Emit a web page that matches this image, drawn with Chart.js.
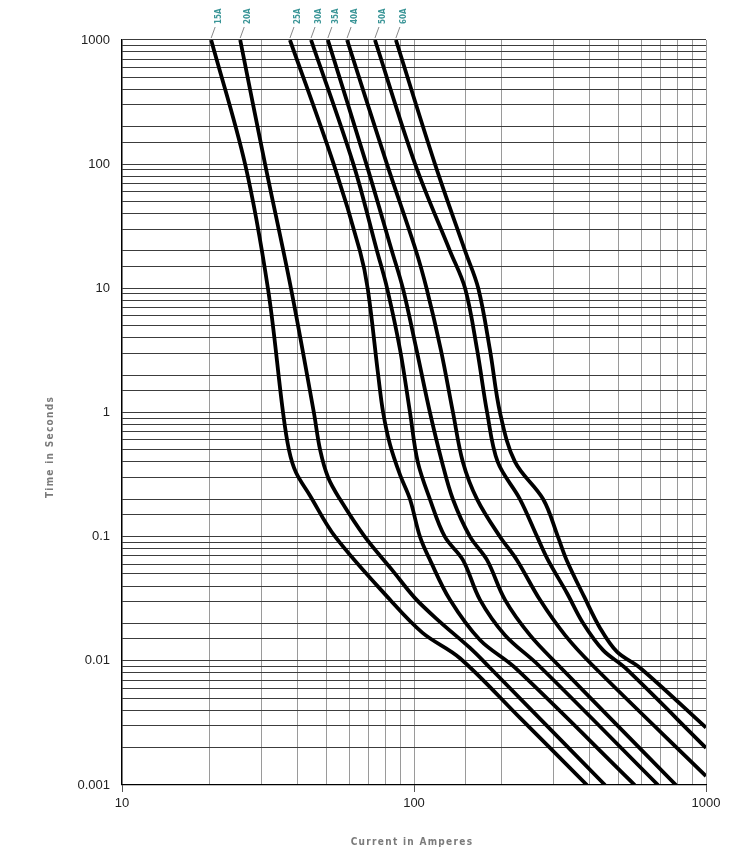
<!DOCTYPE html>
<html>
<head>
<meta charset="utf-8">
<title>Fuse time-current curves</title>
<script src="https://cdn.jsdelivr.net/npm/chart.js@4.4.0/dist/chart.umd.min.js"></script>
<style>
    html, body {
        margin: 0;
        padding: 0;
        background: #fff;
    }
    #wrap {
        width: 735px;
        height: 865px;
        position: relative;
    }
</style>
</head>
<body>
<div id="wrap"><canvas id="fuseChart" width="735" height="865"></canvas></div>
<script>
// fuse ratings shown above the curves
var fuseLabels = ['15A', '20A', '25A', '30A', '35A', '40A', '50A', '60A'];

// current (A) and melting time (s)
var amps15 = [20.2, 26.4, 31.6, 35.6, 37.3, 39.4, 44.0, 53.7, 82.8, 107, 143.7, 230.7, 391];
var secs15 = [1000, 100, 10, 1, 0.5, 0.33, 0.215, 0.1, 0.031, 0.0168, 0.0105, 0.00347, 0.001];

var amps20 = [25.4, 30.9, 37.9, 45.4, 47.7, 50.8, 55.8, 67.8, 84.1, 100.8, 122.7, 155.5, 182, 451];
var secs20 = [1000, 100, 10, 1, 0.5, 0.3, 0.2, 0.1, 0.054, 0.032, 0.0206, 0.0127, 0.0088, 0.001];

var amps25 = [37.6, 53.1, 65.3, 69.4, 75.4, 78.4, 82.8, 89.6, 96.9, 104.8, 113.4, 132.8, 168.3, 221.8, 570];
var secs25 = [1000, 100, 20, 10, 2, 1, 0.55, 0.314, 0.2, 0.1, 0.065, 0.031, 0.0147, 0.0088, 0.001];

var amps30 = [44.4, 62, 74.7, 80.9, 89.6, 96.9, 103, 113.4, 127.5, 147, 168.3, 205, 265.9, 685];
var secs30 = [1000, 100, 20, 10, 3.2, 1, 0.4, 0.2, 0.1, 0.065, 0.031, 0.0161, 0.0093, 0.001];

var amps35 = [50.7, 68.7, 84, 91.6, 102, 113.4, 124.7, 135.9, 155.5, 177.8, 205, 249.6, 311, 789];
var secs35 = [1000, 100, 20, 10, 3.2, 1, 0.4, 0.2, 0.1, 0.065, 0.031, 0.0161, 0.0093, 0.001];

var amps40 = [59, 80.8, 101.6, 110.4, 123.6, 136, 147, 164.5, 197, 225, 270, 329, 407, 1000];
var secs40 = [1000, 100, 20, 10, 3.2, 1, 0.4, 0.2, 0.1, 0.065, 0.031, 0.0161, 0.0093, 0.00118];

var amps50 = [73.5, 100.9, 132.8, 149.6, 164.5, 178, 193.5, 230.7, 264, 287.5, 334, 379, 444, 528, 1000];
var secs50 = [1000, 100, 20, 10, 3.2, 1, 0.4, 0.2, 0.1, 0.065, 0.0352, 0.0202, 0.0122, 0.0088, 0.00199];

var amps60 = [86.7, 118, 149.6, 166, 182, 197, 221.8, 277, 311, 333, 383, 433.5, 496, 594, 1000];
var secs60 = [1000, 100, 20, 10, 3.2, 1, 0.4, 0.2, 0.1, 0.065, 0.0327, 0.0184, 0.0118, 0.0088, 0.0029];

// axis decades that get a number
var xTickLabels = [10, 100, 1000];
var yTickLabels = [0.001, 0.01, 0.1, 1, 10, 100, 1000];

function toPoints(amps, secs) {
    var pts = [];
    for (var i = 0; i < amps.length; i++) {
        pts.push({ x: amps[i], y: secs[i] });
    }
    return pts;
}

function isDecade(v, list) {
    for (var i = 0; i < list.length; i++) {
        if (Math.abs(v - list[i]) / list[i] < 1e-6) return true;
    }
    return false;
}

var curves = [
    toPoints(amps15, secs15),
    toPoints(amps20, secs20),
    toPoints(amps25, secs25),
    toPoints(amps30, secs30),
    toPoints(amps35, secs35),
    toPoints(amps40, secs40),
    toPoints(amps50, secs50),
    toPoints(amps60, secs60)
];

var datasets = [];
for (var i = 0; i < curves.length; i++) {
    datasets.push({
        label: fuseLabels[i],
        data: curves[i],
        showLine: true,
        borderColor: '#000',
        borderWidth: 3.8,
        borderCapStyle: 'butt',
        borderJoinStyle: 'round',
        pointRadius: 0,
        fill: false,
        tension: 0.35
    });
}

// fuse names on top, axis titles with letter spacing
var decorPlugin = {
    id: 'decor',
    afterDraw: function (chart) {
        var ctx = chart.ctx;
        var xs = chart.scales.x;
        var area = chart.chartArea;

        ctx.save();
        for (var i = 0; i < datasets.length; i++) {
            var first = datasets[i].data[0];
            var px = xs.getPixelForValue(first.x);
            var py = area.top;

            ctx.strokeStyle = '#6a6a6a';
            ctx.lineWidth = 0.8;
            ctx.beginPath();
            ctx.moveTo(px, py - 2);
            ctx.lineTo(px + 4, py - 13);
            ctx.stroke();

            ctx.save();
            ctx.translate(px + 8, py - 16);
            ctx.rotate(-Math.PI / 2);
            ctx.fillStyle = '#3a9597';
            ctx.font = 'bold 8px "Liberation Sans Narrow", "DejaVu Sans Condensed", "Liberation Sans", sans-serif';
            ctx.textAlign = 'left';
            ctx.textBaseline = 'middle';
            ctx.fillText(fuseLabels[i], 0, 0);
            ctx.restore();
        }

        ctx.fillStyle = '#7b7b7b';
        ctx.font = 'bold 10px "Liberation Sans Narrow", "DejaVu Sans Condensed", "Liberation Sans", sans-serif';
        ctx.letterSpacing = '1.3px';
        ctx.textAlign = 'center';
        ctx.textBaseline = 'middle';
        ctx.fillText('Current in Amperes', (area.left + area.right) / 2 - 2, 842);

        ctx.translate(50, 447);
        ctx.rotate(-Math.PI / 2);
        ctx.fillText('Time in Seconds', 0, 0);
        ctx.restore();
    }
};

var ctx = document.getElementById('fuseChart').getContext('2d');

new Chart(ctx, {
    type: 'scatter',
    data: {
        datasets: datasets
    },
    options: {
        responsive: false,
        animation: false,
        layout: {
            padding: {
                left: 0,
                top: 40,
                right: 29,
                bottom: 0
            }
        },
        plugins: {
            legend: {
                display: false
            },
            tooltip: {
                enabled: false
            }
        },
        scales: {
            x: {
                type: 'logarithmic',
                min: 10,
                max: 1000,
                afterFit: function (scale) {
                    scale.height = 80;
                },
                border: {
                    color: '#000',
                    width: 1.2
                },
                grid: {
                    color: '#9a9a9a',
                    lineWidth: 1,
                    tickLength: 7,
                    tickColor: function (c) {
                        return isDecade(c.tick.value, xTickLabels) ? '#555' : 'rgba(0,0,0,0)';
                    }
                },
                ticks: {
                    autoSkip: false,
                    maxRotation: 0,
                    color: '#222',
                    padding: 4,
                    font: {
                        family: '"Liberation Sans", Arial, sans-serif',
                        size: 13
                    },
                    callback: function (value) {
                        return isDecade(value, xTickLabels) ? String(value) : '';
                    }
                }
            },
            y: {
                type: 'logarithmic',
                min: 0.001,
                max: 1000,
                afterFit: function (scale) {
                    scale.width = 122;
                },
                border: {
                    color: '#000',
                    width: 1.2
                },
                grid: {
                    color: '#3c3c3c',
                    lineWidth: 1.1,
                    tickLength: 0
                },
                ticks: {
                    autoSkip: false,
                    color: '#222',
                    padding: 12,
                    font: {
                        family: '"Liberation Sans", Arial, sans-serif',
                        size: 13
                    },
                    callback: function (value) {
                        return isDecade(value, yTickLabels) ? String(value) : '';
                    }
                }
            }
        }
    },
    plugins: [decorPlugin]
});
</script>
</body>
</html>
